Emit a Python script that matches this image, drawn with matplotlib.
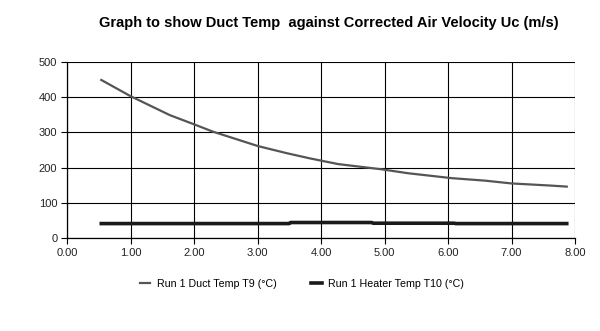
import matplotlib.pyplot as plt

plt.rcParams['font.family'] = ['Liberation Sans', 'DejaVu Sans']

# Run 1 duct temperature T9 vs corrected air velocity
duct_uc = [0.54, 1.00, 1.62, 2.00, 2.30, 3.01, 3.46, 3.83, 4.27, 4.96, 5.37, 6.06, 6.58, 7.00, 7.61, 7.87]
duct_temp = [449, 403, 349, 323, 302, 261, 241, 226, 210, 195, 184, 170, 163, 155, 149, 146]

# Run 1 heater temperature T10
heater_uc = [0.54, 3.50, 3.52, 4.80, 4.82, 6.10, 6.12, 7.87]
heater_temp = [41, 41, 44, 44, 42, 42, 41, 41]

x_ticks = [0, 1, 2, 3, 4, 5, 6, 7, 8]
y_ticks = [0, 100, 200, 300, 400, 500]

fig = plt.figure(figsize=(6.0, 3.31), dpi=100)
ax = fig.add_axes([67 / 600, 1 - 238 / 331, 508 / 600, 176 / 331])

ax.plot(duct_uc, duct_temp, color='#555555', linewidth=1.6, label='Run 1 Duct Temp T9 (°C)')
ax.plot(heater_uc, heater_temp, color='#1a1a1a', linewidth=2.6, label='Run 1 Heater Temp T10 (°C)')

ax.set_xlim(0, 8)
ax.set_ylim(0, 500)
ax.set_xticks(x_ticks)
ax.set_xticklabels([f'{v:.2f}' for v in x_ticks])
ax.set_yticks(y_ticks)
ax.tick_params(labelsize=8, length=4, width=0.8, color='black', pad=3, labelcolor='#222222')
ax.grid(True, color='black', linewidth=0.8)
ax.set_axisbelow(True)
for side in ['top', 'right']:
    ax.spines[side].set_visible(False)
for side in ['left', 'bottom']:
    ax.spines[side].set_linewidth(0.9)

fig.text(0.5475, 1 - 23 / 331, 'Graph to show Duct Temp  against Corrected Air Velocity Uc (m/s)',
         ha='center', va='center', fontsize=10.5, fontweight='bold')

fig.legend(loc='center', bbox_to_anchor=(0.503, 1 - 284 / 331), ncol=2, frameon=False,
           fontsize=7.7, handlelength=1.0, columnspacing=3.2, handletextpad=0.6)

fig.savefig('out.png', dpi=100)
